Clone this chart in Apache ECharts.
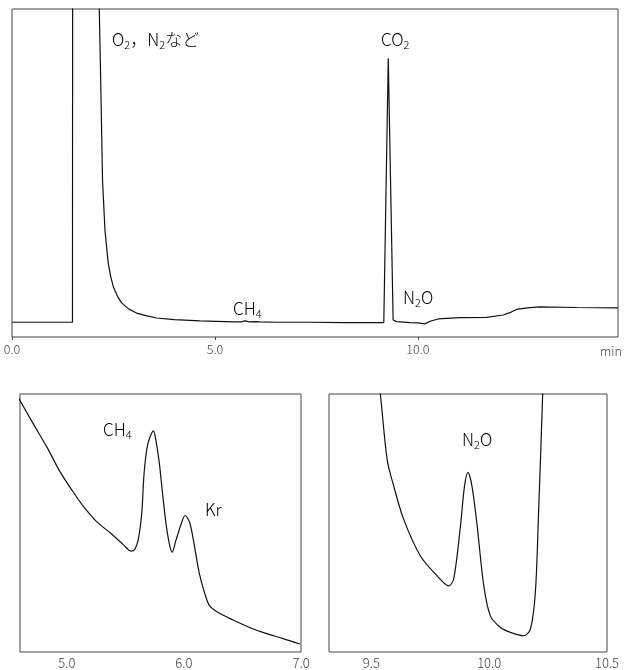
<!DOCTYPE html>
<html>
<head>
<meta charset="utf-8">
<script src="https://cdn.jsdelivr.net/npm/echarts@6/dist/echarts.min.js"></script>
<style>
html,body{margin:0;padding:0;background:#fff;}
#chart{width:634px;height:670px;}
</style>
</head>
<body>
<div id="chart"></div>
<script>
// ---- Full chromatogram (time in min, signal in arbitrary units) ----
var mainTime = [0, 0.7, 1.49, 1.50, 2.12, 2.15, 2.185, 2.23, 2.29, 2.37, 2.43, 2.50, 2.60, 2.70, 2.88, 3.07, 3.30, 3.56, 4.0, 4.63, 5.45, 5.65, 5.74, 5.85, 6.0, 6.1, 6.5, 7.3, 8.2, 9.10, 9.16, 9.27, 9.39, 9.48, 9.8, 10.0, 10.17, 10.3, 10.5, 11.03, 11.69, 12.1, 12.3, 12.43, 12.7, 13.0, 13.91, 14.93];
var mainSignal = [4.5, 4.5, 4.5, 300, 300, 100, 78.4, 47.9, 32.6, 22.6, 18.5, 15.2, 12.4, 10.4, 8.5, 7.3, 6.5, 5.8, 5.3, 4.9, 4.6, 4.6, 4.9, 4.6, 4.7, 4.6, 4.5, 4.5, 4.4, 4.4, 4.4, 85, 5.2, 4.7, 4.4, 4.3, 4.0, 4.8, 5.5, 5.9, 6.0, 6.7, 7.6, 8.4, 8.9, 9.2, 9.0, 8.9];

// ---- Zoom: CH4 / Kr region ----
var ch4Time = [4.59, 4.71, 4.83, 4.94, 5.05, 5.14, 5.25, 5.37, 5.48, 5.55, 5.58, 5.61, 5.64, 5.66, 5.69, 5.74, 5.76, 5.79, 5.82, 5.85, 5.88, 5.90, 5.93, 5.98, 6.01, 6.05, 6.09, 6.13, 6.18, 6.22, 6.30, 6.42, 6.56, 6.70, 6.84, 6.99];
var ch4Signal = [98.3, 88.7, 79.4, 70.0, 62.3, 56.5, 50.7, 46.2, 41.7, 39.1, 39.8, 43.6, 53.9, 69.4, 80.3, 85.7, 82.2, 73.2, 60.4, 48.8, 41.0, 38.7, 43.0, 50.1, 52.9, 50.1, 41.0, 30.8, 22.4, 17.9, 15.1, 12.4, 9.5, 7.2, 5.3, 3.1];

// ---- Zoom: N2O region ----
var n2oTime = [9.50, 9.538, 9.567, 9.595, 9.637, 9.708, 9.779, 9.828, 9.849, 9.878, 9.895, 9.910, 9.927, 9.949, 9.977, 10.005, 10.048, 10.09, 10.146, 10.175, 10.196, 10.21, 10.227, 10.24];
var n2oSignal = [130, 100, 74.5, 64.2, 51.4, 37.2, 29.5, 25.6, 28.2, 48.8, 64.2, 69.6, 64.2, 48.8, 25.6, 14.0, 9.5, 7.6, 6.3, 8.9, 23.2, 55.2, 100, 140];

// ---- Tick labels ----
var mainTicks = [0, 5, 10];
var ch4Ticks = [5, 6, 7];
var n2oTicks = [9.5, 10, 10.5];
var mainUnit = 'min';

function pairs(xs, ys) { return xs.map(function (x, i) { return [x, ys[i]]; }); }

var FONT = '"Noto Sans CJK JP", "Noto Sans", sans-serif';
var frame = '#444';

function xAxisCfg(idx, min, max, ticks, showTicks, fs, margin) {
  return {
    type: 'value', gridIndex: idx, min: min, max: max,
    axisLine: { show: false },
    splitLine: { show: false },
    axisTick: { show: showTicks, customValues: ticks, length: 3, lineStyle: { color: frame } },
    axisLabel: { customValues: ticks, margin: margin, color: '#444', fontSize: fs, fontFamily: FONT, fontWeight: 300,
      formatter: function (v) { return v.toFixed(1); } }
  };
}
function yAxisCfg(idx, min, max) {
  return {
    type: 'value', gridIndex: idx, min: min, max: max,
    axisLine: { show: false }, axisTick: { show: false }, axisLabel: { show: false }, splitLine: { show: false }
  };
}

var rich = {
  n: { fontSize: 17, fontFamily: FONT, fontWeight: 300, color: '#222' },
  s: { fontSize: 11, fontFamily: FONT, fontWeight: 300, color: '#222', padding: [9, 0, 0, 0] }
};
function label(x, y, text) {
  return { type: 'text', x: x, y: y, style: { text: text, rich: rich, verticalAlign: 'middle', align: 'left', font: '300 17px ' + FONT } };
}

var lineStyle = { color: '#111', width: 1.2 };
var chart = echarts.init(document.getElementById('chart'), null, { renderer: 'canvas' });
var x0 = xAxisCfg(0, 0, 14.93, mainTicks, true, 12.5, 6);
x0.name = mainUnit;
x0.nameLocation = 'end';
x0.nameGap = -7;
x0.nameTextStyle = { color: '#444', fontSize: 12.5, fontFamily: FONT, fontWeight: 300, align: 'center', verticalAlign: 'top', padding: [8, 0, 0, 0] };

chart.setOption({
  animation: false,
  backgroundColor: '#fff',
  grid: [
    { left: 12, top: 9, width: 606, height: 328, show: true, borderColor: frame, borderWidth: 1, containLabel: false },
    { left: 20, top: 394, width: 281, height: 259, show: true, borderColor: frame, borderWidth: 1, containLabel: false },
    { left: 329, top: 394, width: 278, height: 259, show: true, borderColor: frame, borderWidth: 1, containLabel: false }
  ],
  xAxis: [
    x0,
    xAxisCfg(1, 4.6, 7.0, ch4Ticks, false, 13, 5),
    xAxisCfg(2, 9.32, 10.5, n2oTicks, false, 13, 5)
  ],
  yAxis: [yAxisCfg(0, 0, 100), yAxisCfg(1, 0, 100), yAxisCfg(2, 0, 100)],
  series: [
    { type: 'line', xAxisIndex: 0, yAxisIndex: 0, data: pairs(mainTime, mainSignal), showSymbol: false, lineStyle: lineStyle, clip: true },
    { type: 'line', xAxisIndex: 1, yAxisIndex: 1, data: pairs(ch4Time, ch4Signal), showSymbol: false, smooth: 0.3, lineStyle: lineStyle, clip: true },
    { type: 'line', xAxisIndex: 2, yAxisIndex: 2, data: pairs(n2oTime, n2oSignal), showSymbol: false, smooth: 0.3, lineStyle: lineStyle, clip: true }
  ],
  graphic: [
    label(112, 40, '{n|O}{s|2}{n|，N}{s|2}{n|など}'),
    label(381, 40, '{n|CO}{s|2}'),
    label(233, 309, '{n|CH}{s|4}'),
    label(403, 298, '{n|N}{s|2}{n|O}'),
    label(103, 430, '{n|CH}{s|4}'),
    label(205, 510, '{n|Kr}'),
    label(462, 440, '{n|N}{s|2}{n|O}')
  ]
});
</script>
</body>
</html>
